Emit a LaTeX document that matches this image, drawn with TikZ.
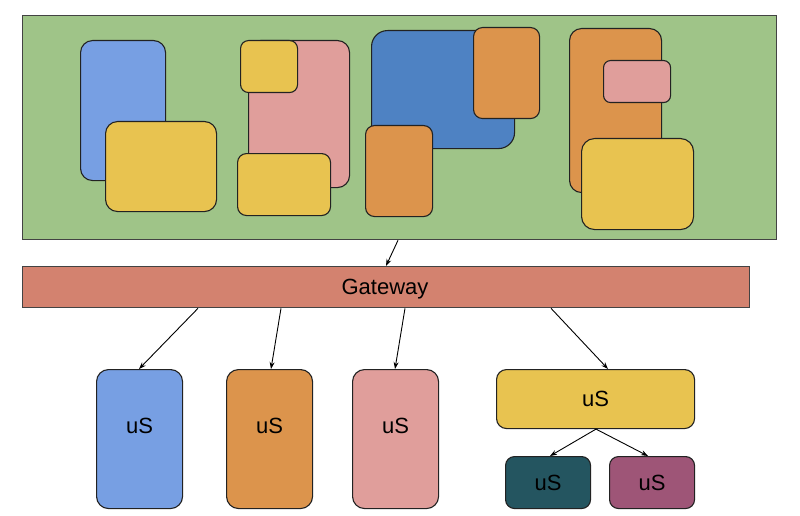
\documentclass[tikz,border=0pt]{standalone}
\usepackage{fontspec}
\setmainfont{Liberation Sans}
\usetikzlibrary{arrows.meta}
\definecolor{cgreen}{HTML}{9FC488}
\definecolor{cgate}{HTML}{D3826F}
\definecolor{cblue}{HTML}{779FE3}
\definecolor{cdblue}{HTML}{4E82C3}
\definecolor{corange}{HTML}{DC944C}
\definecolor{cyellow}{HTML}{E8C350}
\definecolor{cpink}{HTML}{E09E9B}
\definecolor{cteal}{HTML}{245560}
\definecolor{cpurple}{HTML}{9E5577}
\definecolor{cline}{HTML}{222222}
\tikzset{
  box/.style={draw=cline, line width=1.1pt, rounded corners=#1, inner sep=0pt, anchor=north west},
  box/.default=10pt,
  flat/.style={draw=cline!85!white, line width=1.3pt, inner sep=0pt, anchor=north west},
  lbl/.style={font=\fontsize{22}{26}\selectfont},
  raised/.style={text depth=26pt},
  arr/.style={draw=black, line width=0.9pt, -{Stealth[length=7pt,width=5pt]}}
}
\begin{document}
\begin{tikzpicture}[x=1pt,y=-1pt]
\useasboundingbox (0,0) rectangle (800,516);
% outer green container
\node[flat, fill=cgreen, minimum width=754pt, minimum height=224pt] (env) at (22,15) {};
% group 1
\node[box=12pt, fill=cblue, minimum width=85pt, minimum height=140pt] (g1a) at (80,40) {};
\node[box=12pt, fill=cyellow, minimum width=111pt, minimum height=90pt] (g1b) at (105,121) {};
% group 2
\node[box=12pt, fill=cpink, minimum width=101pt, minimum height=147pt] (g2a) at (248,40) {};
\node[box=8pt, fill=cyellow, minimum width=57pt, minimum height=52pt] (g2b) at (240,40) {};
\node[box=9pt, fill=cyellow, minimum width=93pt, minimum height=62pt] (g2c) at (237,153) {};
% group 3
\node[box=16pt, fill=cdblue, minimum width=143pt, minimum height=118pt] (g3a) at (371,30) {};
\node[box=9pt, fill=corange, minimum width=66pt, minimum height=91pt] (g3b) at (473,27) {};
\node[box=9pt, fill=corange, minimum width=67pt, minimum height=91pt] (g3c) at (365,125) {};
% group 4
\node[box=12pt, fill=corange, minimum width=92pt, minimum height=164pt] (g4a) at (569,28) {};
\node[box=7pt, fill=cpink, minimum width=67pt, minimum height=42pt] (g4b) at (603,60) {};
\node[box=13pt, fill=cyellow, minimum width=112pt, minimum height=91pt] (g4c) at (581,138) {};
% gateway
\node[flat, fill=cgate, minimum width=727pt, minimum height=41pt] (gw) at (22,266) {};
\node[lbl] (gwt) at (385,289) {Gateway};
% services
\node[box=12pt, fill=cblue, minimum width=86pt, minimum height=139pt, lbl, raised] (s1) at (96,369) {uS};
\node[box=12pt, fill=corange, minimum width=86pt, minimum height=139pt, lbl, raised] (s2) at (226,369) {uS};
\node[box=12pt, fill=cpink, minimum width=86pt, minimum height=139pt, lbl, raised] (s3) at (352,369) {uS};
\node[box=10pt, fill=cyellow, minimum width=198pt, minimum height=59pt, lbl] (s4) at (496,369) {uS};
\node[box=9pt, fill=cteal, minimum width=85pt, minimum height=52pt, lbl] (s5) at (505,456) {uS};
\node[box=9pt, fill=cpurple, minimum width=85pt, minimum height=52pt, lbl] (s6) at (609,456) {uS};
% connectors
\draw[arr] ([xshift=376pt]env.south west) -- ([xshift=364pt]gw.north west);
\draw[arr] ([xshift=176pt]gw.south west) -- ([xshift=43pt]s1.north west);
\draw[arr] ([xshift=259pt]gw.south west) -- ([xshift=45pt]s2.north west);
\draw[arr] ([xshift=383pt]gw.south west) -- ([xshift=43pt]s3.north west);
\draw[arr] ([xshift=529pt]gw.south west) -- ([xshift=112pt]s4.north west);
\draw[arr] ([xshift=100pt]s4.south west) -- ([xshift=45pt]s5.north west);
\draw[arr] ([xshift=100pt]s4.south west) -- ([xshift=39pt]s6.north west);
\end{tikzpicture}
\end{document}
